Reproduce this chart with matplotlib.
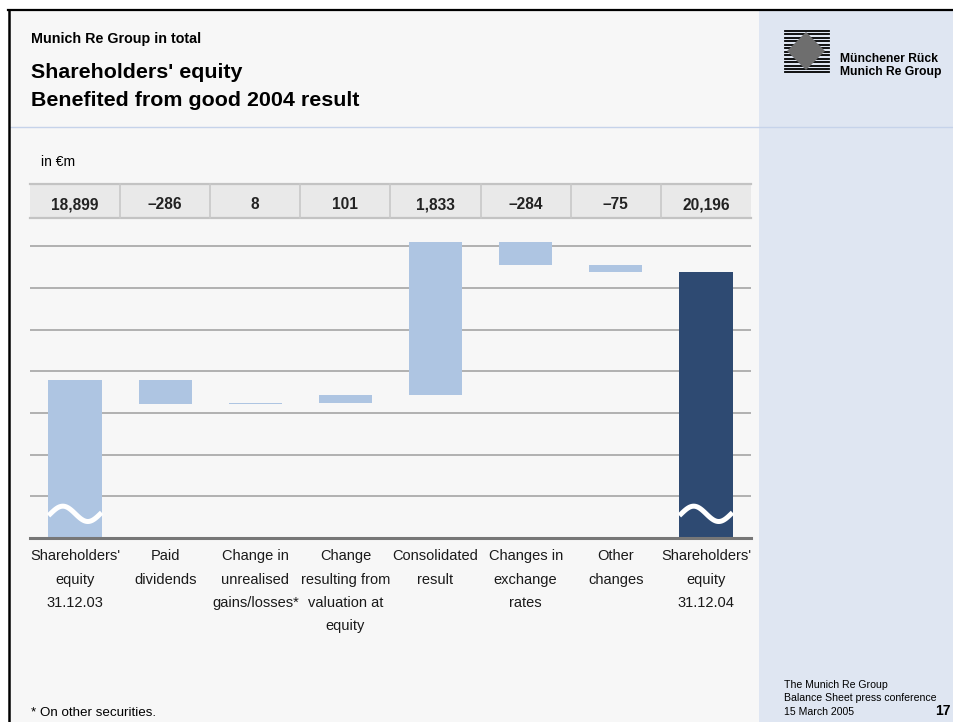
import matplotlib.pyplot as plt
import numpy as np
from matplotlib.patches import Rectangle, Polygon
from matplotlib.lines import Line2D

plt.rcParams['font.family'] = ['Liberation Sans', 'DejaVu Sans']

# shareholders' equity bridge, in €m
categories = [
    "Shareholders'\nequity\n31.12.03",
    "Paid\ndividends",
    "Change in\nunrealised\ngains/losses*",
    "Change\nresulting from\nvaluation at\nequity",
    "Consolidated\nresult",
    "Changes in\nexchange\nrates",
    "Other\nchanges",
    "Shareholders'\nequity\n31.12.04",
]
opening = 18899
changes = [-286, 8, 101, 1833, -284, -75]
closing = 20196

y_floor = 17000
y_top = 20600
grid_levels = [17500, 18000, 18500, 19000, 19500, 20000, 20500]

W, H = 954, 722
BG = '#f7f7f7'
PANEL = '#dfe6f2'
LIGHT = '#aec5e2'
DARK = '#2e4a72'


def px(x, y):
    # pixel position (from top-left) to figure fraction
    return x / W, 1 - y / H


fig = plt.figure(figsize=(W / 100, H / 100), dpi=100)
fig.patch.set_facecolor('white')

# page background, side panel and frame
fig.patches.append(Rectangle(px(9, H), (W - 9) / W, (H - 10) / H,
                             transform=fig.transFigure, facecolor=BG, edgecolor='none', zorder=-2))
fig.patches.append(Rectangle(px(759, H), (W - 759) / W, (H - 10) / H,
                             transform=fig.transFigure, facecolor=PANEL, edgecolor='none', zorder=-2))
fig.lines.append(Line2D([px(8, 0)[0], 1], [px(0, 10)[1]] * 2, transform=fig.transFigure,
                        color='black', lw=1.6, zorder=3))
fig.lines.append(Line2D([px(9, 0)[0]] * 2, [px(0, 10)[1], 0], transform=fig.transFigure,
                        color='black', lw=1.8, zorder=3))
fig.lines.append(Line2D([px(10, 0)[0], 1], [px(0, 127)[1]] * 2, transform=fig.transFigure,
                        color='#c6d3ea', lw=1.0, zorder=-1))

# header
fig.text(*px(31, 42.5), "Munich Re Group in total", fontsize=10.3, fontweight='bold', va='baseline')
fig.text(*px(31, 77.5), "Shareholders' equity", fontsize=15.4, fontweight='bold', va='baseline')
fig.text(*px(31, 106), "Benefited from good 2004 result", fontsize=15.4, fontweight='bold', va='baseline')
fig.text(*px(41, 166), "in €m", fontsize=10, va='baseline')
fig.text(*px(31, 716), "* On other securities.", fontsize=9.6, va='baseline')

# logo: striped lozenge
diamond = [px(806, 32), px(825, 51), px(806, 70), px(787, 51)]
fig.patches.append(Polygon(diamond, closed=True, transform=fig.transFigure,
                           facecolor='#6e6e6e', edgecolor='none', zorder=-1))
for ly in np.arange(31, 73, 3.45):
    fig.lines.append(Line2D([px(785, 0)[0], px(829, 0)[0]], [px(0, ly)[1]] * 2,
                            transform=fig.transFigure, color='black', lw=1.3, zorder=-1))
fig.text(*px(840, 62), "Münchener Rück", fontsize=8.7, fontweight='bold', va='baseline')
fig.text(*px(840, 74.5), "Munich Re Group", fontsize=8.7, fontweight='bold', va='baseline')

# footer in side panel
fig.text(*px(784, 715), "The Munich Re Group\nBalance Sheet press conference\n15 March 2005",
         fontsize=7.6, va='baseline', linespacing=1.45)
fig.text(*px(951, 715), "17", fontsize=10, fontweight='bold', va='baseline', ha='right')

# chart area
ax = fig.add_axes([px(30, 0)[0], px(0, 538)[1], (751 - 30) / W, 300 / H])
ax.set_zorder(2)
ax.set_facecolor('none')
ax.set_xlim(-0.5, 7.5)
ax.set_ylim(y_floor, y_top)
for s in ax.spines.values():
    s.set_visible(False)
ax.set_yticks([])

for g in grid_levels:
    ax.axhline(g, color='#ababab', lw=1.3, zorder=1)
ax.axhline(y_floor, color='#777777', lw=2.2, zorder=4, clip_on=False)

bar_w = 0.59
starts = [y_floor]
heights = [opening - y_floor]
colors = [LIGHT]
level = opening
for c in changes:
    starts.append(level + min(c, 0))
    heights.append(abs(c))
    colors.append(LIGHT)
    level += c
starts.append(y_floor)
heights.append(closing - y_floor)
colors.append(DARK)

x = np.arange(len(categories))
ax.bar(x, heights, bar_w, bottom=starts, color=colors, linewidth=0, zorder=3)

# axis-break waves across the total bars
t = np.linspace(0, 1, 80)
wave = 17290 + 92 * np.sin(2 * np.pi * (t - 0.27) / 0.94 + np.pi / 2)
for i in (0, len(categories) - 1):
    ax.plot(i - bar_w / 2 + t * bar_w, wave, color='white', lw=3.6, zorder=3.5,
            solid_capstyle='butt')

ax.set_xticks(x, categories, fontsize=10.5, linespacing=1.86, color='#1a1a1a')
ax.tick_params(axis='x', length=0, pad=8)

# value strip above the chart
values = [opening] + changes + [closing]
trans = ax.get_xaxis_transform()
y0 = (538 - 218) / 300
y1 = (538 - 184) / 300
yb = (538 - 209) / 300
ax.add_patch(Rectangle((-0.5, y0), 8, y1 - y0, transform=trans, facecolor='#e9e9e9',
                       edgecolor='none', clip_on=False, zorder=1))
for yy in (y0, y1):
    ax.plot([-0.5, 7.5], [yy, yy], transform=trans, color='#c3c3c3', lw=1.6, clip_on=False, zorder=2)
for k in range(1, len(values)):
    ax.plot([k - 0.5, k - 0.5], [y0, y1], transform=trans, color='#c8c8c8', lw=1.2,
            clip_on=False, zorder=2)
for k, v in enumerate(values):
    label = f"{abs(v):,}"
    if v < 0:
        label = "\u2013" + label
    ax.text(k, yb, label, transform=trans, ha='center', va='baseline',
            fontsize=11.2, fontweight='bold', color='#222222')

fig.savefig('out.png', dpi=100, facecolor=fig.get_facecolor())
